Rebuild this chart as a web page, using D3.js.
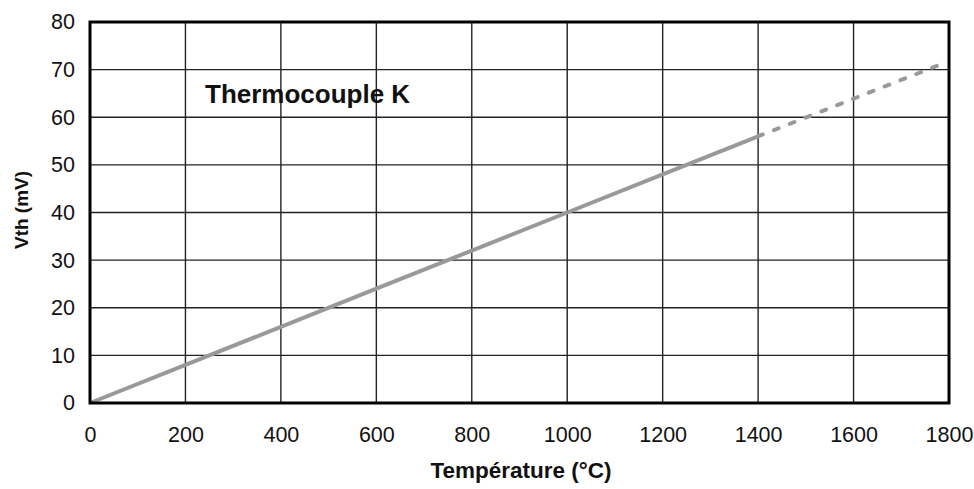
<!DOCTYPE html>
<html>
<head>
<meta charset="utf-8">
<script src="https://cdn.jsdelivr.net/npm/d3@7"></script>
<style>
  body { margin: 0; background: #fff; }
  svg { font-family: "Liberation Sans", Arial, sans-serif; }
</style>
</head>
<body>
<div id="chart"></div>
<script>
const xTicks = [0, 200, 400, 600, 800, 1000, 1200, 1400, 1600, 1800];
const yTicks = [0, 10, 20, 30, 40, 50, 60, 70, 80];
// measured part (solid) and extrapolated part (dashed)
const solidTemp = [0, 200, 400, 600, 800, 1000, 1200, 1400];
const solidMv = [0, 8, 16, 24, 32, 40, 48, 56];
const dashTemp = [1400, 1780];
const dashMv = [56, 71];

const width = 974, height = 489;
const mLeft = 90, mTop = 22, mRight = 949, mBottom = 403;

const svg = d3.select("#chart").append("svg")
  .attr("width", width).attr("height", height);

const x = d3.scaleLinear().domain([0, 1800]).range([mLeft, mRight]);
const y = d3.scaleLinear().domain([0, 80]).range([mBottom, mTop]);

// grid
svg.append("g").selectAll("line").data(xTicks.slice(1, -1)).enter().append("line")
  .attr("x1", d => x(d)).attr("x2", d => x(d))
  .attr("y1", mTop).attr("y2", mBottom)
  .style("stroke", "#222").style("stroke-width", 1.4);
svg.append("g").selectAll("line").data(yTicks.slice(1, -1)).enter().append("line")
  .attr("x1", mLeft).attr("x2", mRight)
  .attr("y1", d => y(d)).attr("y2", d => y(d))
  .style("stroke", "#222").style("stroke-width", 1.4);

// axes (labels only)
const xAxis = d3.axisBottom(x).tickValues(xTicks).tickFormat(d3.format("d"))
  .tickSize(0).tickPadding(24);
const yAxis = d3.axisLeft(y).tickValues(yTicks).tickFormat(d3.format("d"))
  .tickSize(0).tickPadding(15);

const gx = svg.append("g").attr("transform", "translate(0," + mBottom + ")").call(xAxis);
const gy = svg.append("g").attr("transform", "translate(" + mLeft + ",0)").call(yAxis);
[gx, gy].forEach(g => {
  g.select(".domain").remove();
  g.selectAll("text").style("font-size", "21.5px").style("fill", "#111")
    .style("font-family", "'Liberation Sans', Arial, sans-serif");
});

// line
const line = d3.line().x(d => x(d[0])).y(d => y(d[1]));
svg.append("path")
  .attr("d", line(d3.zip(solidTemp, solidMv)))
  .style("fill", "none").style("stroke", "#999").style("stroke-width", 4);
svg.append("path")
  .attr("d", line(d3.zip(dashTemp, dashMv)))
  .style("fill", "none").style("stroke", "#999").style("stroke-width", 4)
  .style("stroke-linecap", "round")
  .style("stroke-dasharray", "5,12");

// frame
svg.append("rect")
  .attr("x", mLeft).attr("y", mTop)
  .attr("width", mRight - mLeft).attr("height", mBottom - mTop)
  .style("fill", "none").style("stroke", "#000").style("stroke-width", 3);

// texts
svg.append("text")
  .attr("x", 205).attr("y", 103)
  .style("font-size", "26px").style("font-weight", "bold").style("fill", "#111")
  .text("Thermocouple K");

svg.append("text")
  .attr("x", 521).attr("y", 478)
  .attr("text-anchor", "middle")
  .style("font-size", "22.5px").style("font-weight", "bold").style("fill", "#111")
  .text("Température (°C)");

svg.append("text")
  .attr("transform", "translate(28,210) rotate(-90)")
  .attr("text-anchor", "middle")
  .style("font-size", "19px").style("font-weight", "bold").style("fill", "#111")
  .text("Vth (mV)");
</script>
</body>
</html>
